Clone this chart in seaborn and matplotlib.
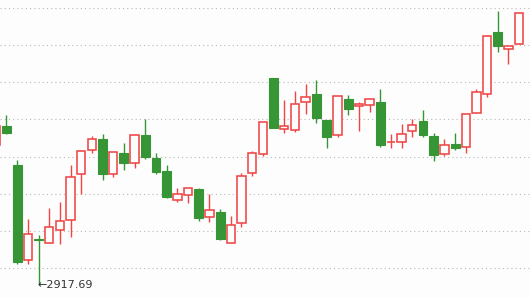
import numpy as np
import pandas as pd
import seaborn as sns
import matplotlib
matplotlib.use("Agg")
import matplotlib.pyplot as plt

# Daily OHLC values (index units on x)
opens = [3068.9, 3089.4, 3047.4, 2944.6, 2967.3, 2963.0, 2977.0, 2987.8, 3037.3, 3063.2,
         3075.4, 3037.3, 3060.3, 3049.2, 3079.7, 3054.9, 3040.9, 3010.0, 3014.7, 3021.5,
         2991.6, 2996.7, 2963.0, 2985.2, 3039.1, 3058.7, 3141.2, 3085.9, 3084.8, 3115.0,
         3124.2, 3095.9, 3079.4, 3118.5, 3110.7, 3112.4, 3115.3, 3071.7, 3071.8, 3083.7,
         3094.8, 3078.6, 3058.9, 3070.0, 3066.5, 3103.1, 3123.6, 3190.7, 3172.1, 3177.5]
closes = [3089.4, 3082.2, 2943.1, 2972.7, 2966.3, 2980.2, 2986.7, 3034.1, 3062.5, 3075.1,
          3038.0, 3061.1, 3049.2, 3079.4, 3056.0, 3039.8, 3012.9, 3015.8, 3022.3, 2990.6,
          2998.5, 2967.6, 2982.7, 3035.5, 3060.0, 3093.7, 3087.6, 3089.4, 3113.1, 3120.7,
          3098.4, 3077.9, 3121.8, 3108.1, 3113.1, 3118.5, 3069.3, 3072.7, 3080.8, 3090.2,
          3080.0, 3058.5, 3068.6, 3066.0, 3102.0, 3125.7, 3186.1, 3176.0, 3175.3, 3210.9]
highs = [3095.0, 3101.3, 3052.8, 2989.2, 2971.6, 3001.0, 3007.5, 3047.4, 3063.5, 3078.6,
         3081.1, 3061.5, 3071.4, 3079.8, 3097.0, 3060.3, 3047.4, 3022.6, 3022.6, 3022.9,
         3016.1, 2999.9, 2992.7, 3038.8, 3062.5, 3094.0, 3141.3, 3117.4, 3127.1, 3134.7,
         3139.0, 3096.0, 3122.0, 3123.2, 3115.3, 3118.6, 3129.3, 3080.8, 3091.6, 3097.0,
         3106.7, 3081.9, 3075.4, 3081.9, 3102.3, 3129.3, 3187.5, 3213.4, 3175.5, 3211.0]
lows = [3065.0, 3081.1, 2940.3, 2941.0, 2917.69, 2962.8, 2962.5, 2969.4, 3016.1, 3060.0,
        3031.5, 3034.8, 3042.3, 3044.5, 3053.8, 3038.0, 3011.8, 3007.5, 3006.7, 2987.3,
        2985.9, 2966.5, 2962.8, 2980.9, 3035.5, 3057.1, 3087.5, 3082.2, 3083.3, 3102.7,
        3093.0, 3065.7, 3077.6, 3101.6, 3084.0, 3104.8, 3066.8, 3065.7, 3065.7, 3077.9,
        3077.9, 3052.0, 3056.8, 3063.9, 3060.6, 3102.9, 3121.0, 3169.5, 3156.6, 3177.4]
grid_levels = [2936.3, 2976.2, 3016.1, 3056.0, 3096.9, 3136.8, 3176.7, 3216.6]
min_label = "2917.69"

df = pd.DataFrame({"open": opens, "close": closes, "high": highs, "low": lows})
df["idx"] = np.arange(len(df))
df["up"] = df["close"] >= df["open"]

RED = "#F04545"
GREEN = "#369636"
BG = "#FDFDFD"

sns.set_style("white")
plt.rcParams["font.family"] = ["DejaVu Sans"]

fig = plt.figure(figsize=(5.30, 2.98), dpi=100, facecolor=BG)
ax = fig.add_axes([0, 0, 1, 1])
ax.set_facecolor(BG)

# dotted gridlines
for g in grid_levels:
    ax.axhline(g, color="#B8B8B8", lw=0.8, ls=(0, (1, 2.8)), zorder=0)

up = df[df["up"]]
dn = df[~df["up"]]

# wicks
ax.vlines(up["idx"], up["low"], up["high"], color=RED, lw=1.0, zorder=1)
ax.vlines(dn["idx"], dn["low"], dn["high"], color=GREEN, lw=1.0, zorder=1)

# bodies
w = 0.78
ax.bar(up["idx"], (up["close"] - up["open"]).clip(lower=0.6), bottom=up["open"], width=w,
       facecolor=BG, edgecolor=RED, linewidth=1.15, zorder=2)
ax.bar(dn["idx"], (dn["open"] - dn["close"]).clip(lower=0.6) * -1, bottom=dn["open"], width=w + 0.06,
       facecolor=GREEN, edgecolor=GREEN, linewidth=0.8, zorder=2)

# minimum label
imin = int(np.argmin(lows))
ax.text(imin - 0.05, lows[imin], "\u2190" + min_label, ha="left", va="center",
        fontsize=8, color="#333333", zorder=3)

ax.set_xlim(0.393, 50.02)
ax.set_ylim(2904.0, 3225.24)
ax.set_xticks([])
ax.set_yticks([])
for s in ax.spines.values():
    s.set_visible(False)

fig.savefig("out.png", dpi=100, facecolor=BG)
